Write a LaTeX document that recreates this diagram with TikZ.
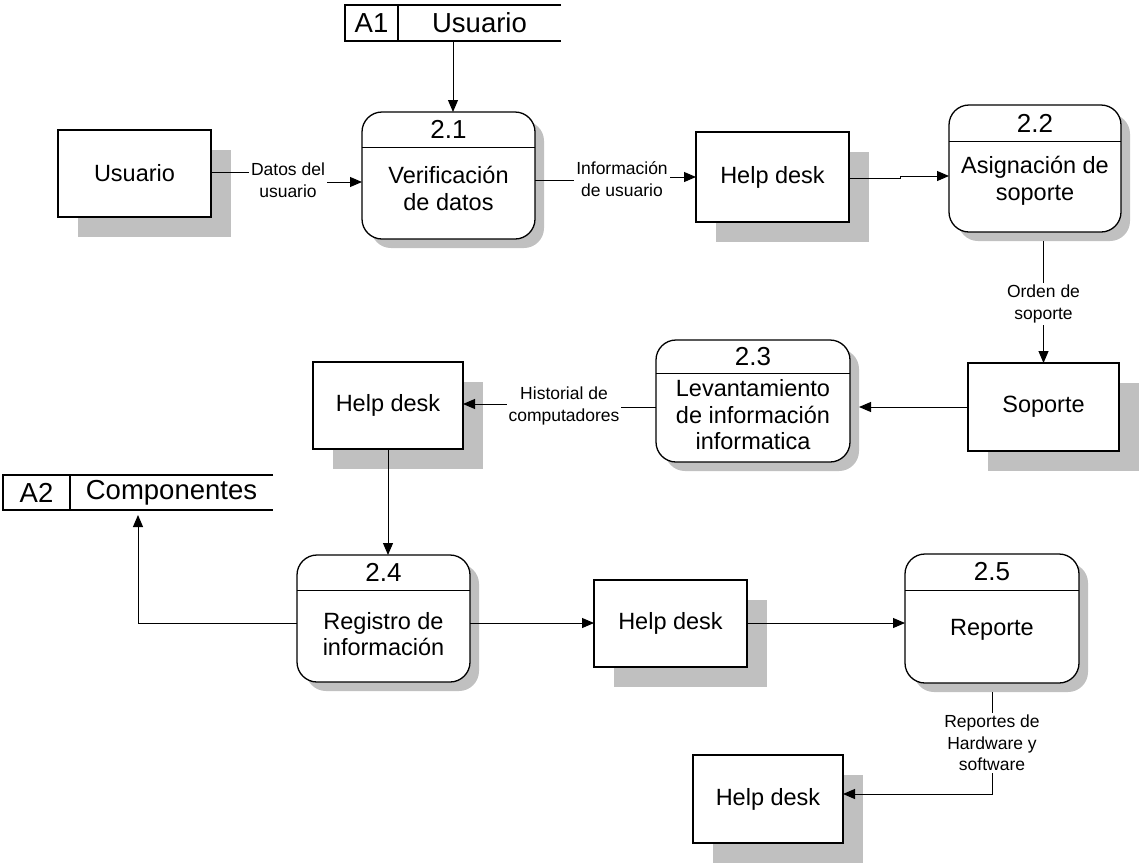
\documentclass[tikz,border=0pt]{standalone}
\usepackage{fontspec}
\setmainfont{Liberation Sans}
\usetikzlibrary{arrows.meta,shadows,calc}
\definecolor{shadowgray}{HTML}{C0C0C0}

% process box: name, centre, width, height, divider depth, number, text depth, text
\newcommand{\procbox}[8]{%
  \node[proc, minimum width=#3pt, minimum height=#4pt] (#1) at (#2) {};
  \draw[divline] ([yshift=-#5pt]#1.north west) -- ([yshift=-#5pt]#1.north east);
  \node[numtext] at ([yshift={-#5pt/2}]#1.north) {#6};
  \node[boxtext] at ([yshift=-#7pt]#1.north) {#8};
}
% data store: name, centre, width, height, id column width, id, title
\newcommand{\datastore}[7]{%
  \node[minimum width=#3pt, minimum height=#4pt] (#1) at (#2) {};
  \draw[storeline] (#1.north east) -- (#1.north west) -- (#1.south west) -- (#1.south east);
  \draw[storeline] ([xshift=#5pt]#1.north west) -- ([xshift=#5pt]#1.south west);
  \node[storetext] at ($(#1.north west)!0.5!([xshift=#5pt]#1.south west)$) {#6};
  \node[storetext] at ($([xshift=#5pt]#1.north west)!0.5!(#1.south east)$) {#7};
}

\begin{document}
\begin{tikzpicture}[x=1pt,y=-1pt,
  every node/.style={inner sep=0pt, outer sep=0pt},
  entity/.style={draw=black, line width=1.6pt, fill=white, align=center,
    font=\fontsize{23.5}{26.5}\selectfont,
    drop shadow={shadow xshift=19.5pt, shadow yshift=-19.5pt, fill=shadowgray, opacity=1}},
  proc/.style={draw=black, line width=1.3pt, fill=white, rounded corners=20pt,
    drop shadow={shadow xshift=9pt, shadow yshift=-9pt, fill=shadowgray, opacity=1}},
  divline/.style={line width=1pt},
  numtext/.style={font=\fontsize{26}{29}\selectfont},
  boxtext/.style={align=center, font=\fontsize{23.5}{26.5}\selectfont},
  storeline/.style={line width=1.3pt},
  storetext/.style={font=\fontsize{27.5}{30}\selectfont},
  flow/.style={line width=1pt, -{Triangle[length=12pt,width=10pt]}},
  flowlabel/.style={fill=white, inner sep=2pt, align=center, font=\fontsize{17.5}{21.5}\selectfont}
]
\fill[white] (0,0) rectangle (1140,863);
\useasboundingbox (0,0) rectangle (1140,863);

% external entities
\node[entity, minimum width=153pt, minimum height=87pt] (e1) at (134.5,173.5) {Usuario};
\node[entity, minimum width=153pt, minimum height=90pt] (h1) at (772.5,177) {Help desk};
\node[entity, minimum width=151pt, minimum height=88pt] (e2) at (1043.5,407) {Soporte};
\node[entity, minimum width=150pt, minimum height=87pt] (h2) at (388,405.5) {Help desk};
\node[entity, minimum width=153pt, minimum height=87pt] (h3) at (670.5,623.5) {Help desk};
\node[entity, minimum width=150pt, minimum height=88pt] (h4) at (768,799) {Help desk};

% processes
\procbox{p1}{448.5,175.5}{173}{127}{35}{2.1}{76.5}{Verificación\\de datos}
\procbox{p2}{1035,168.5}{172}{127}{36}{2.2}{76}{Asignación de\\soporte}
\procbox{p3}{753,401}{194}{122}{33}{2.3}{75}{Levantamiento\\de información\\informatica}
\procbox{p4}{383.5,618.5}{173}{127}{35}{2.4}{79}{Registro de\\información}
\procbox{p5}{992,618.5}{174}{129}{36}{2.5}{76}{Reporte}

% data stores
\datastore{s1}{453,23}{216}{36}{53}{A1}{Usuario}
\datastore{s2}{138,492.5}{270}{35}{67}{A2}{Componentes}

% bend points of the flows
\coordinate (j1) at (288,172);  \coordinate (j1b) at (288,182);
\coordinate (j2) at (622,180);  \coordinate (j2b) at (622,177);
\coordinate (j3) at (900,178);  \coordinate (j3b) at (900,176);
\coordinate (j5) at (564,407);  \coordinate (j5b) at (564,404);
\coordinate (j6) at (0,623);
\coordinate (j7) at (0,794);
\coordinate (p3edge) at ([xshift=9pt]p3.east);

% flows
\draw[flow] (s1.south) -- (s1.south |- p1.north);
\draw[flow] (j1 -| e1.east) -- (j1) -- (j1b) -- (j1b -| p1.west);
\draw[flow] (j2 -| p1.east) -- (j2) -- (j2b) -- (j2b -| h1.west);
\draw[flow] (j3 -| h1.east) -- (j3) -- (j3b) -- (j3b -| p2.west);
\draw[flow, shorten <=9pt] (p2.south -| e2.north) -- (e2.north);
\draw[flow] (e2.west) -- (e2.west -| p3edge);
\draw[flow] (j5 -| p3.west) -- (j5) -- (j5b) -- (j5b -| h2.east);
\draw[flow] (h2.south) -- (h2.south |- p4.north);
\draw[flow, shorten >=5pt] (j6 -| p4.west) -| (s2.south);
\draw[flow] (j6 -| p4.east) -- (j6 -| h3.west);
\draw[flow] (j6 -| h3.east) -- (j6 -| p5.west);
\draw[flow, shorten <=9pt] (p5.south) -- (p5.south |- j7) -- (j7 -| h4.east);

% flow labels
\node[flowlabel] (l1) at (288,180) {Datos del\\usuario};
\node[flowlabel] (l2) at (622,179) {Información\\de usuario};
\node[flowlabel] (l3) at (1043.5,304) {Orden de\\soporte};
\node[flowlabel] (l4) at (564,406) {Historial de\\computadores};
\node[flowlabel] (l5) at (992,743) {Reportes de\\Hardware y\\software};
\end{tikzpicture}
\end{document}
